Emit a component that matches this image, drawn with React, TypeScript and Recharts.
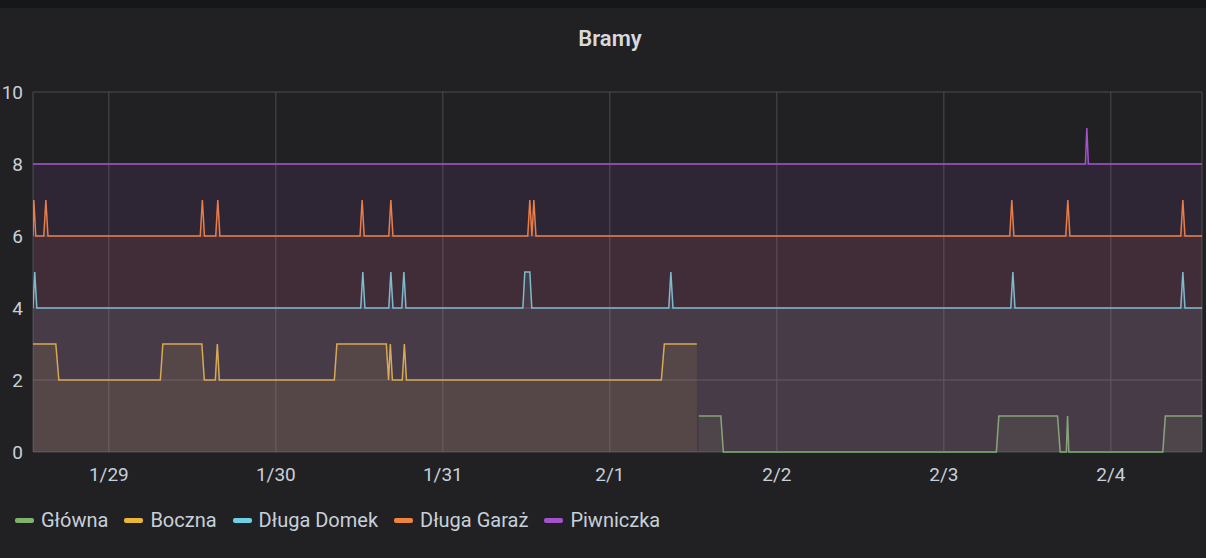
import React from 'react';
import { ComposedChart, Area, XAxis, YAxis, CartesianGrid } from 'recharts';

// time axis: hours since 1/29 00:00 (last 7 days window)
const xDomain = [-10.9, 157.1];
const dayTicks = [0, 24, 48, 72, 96, 120, 144];
const dayLabels = ['1/29', '1/30', '1/31', '2/1', '2/2', '2/3', '2/4'];
const yTicks = [0, 2, 4, 6, 8, 10];

// [hour, value] samples
const glowna: [number, number][] = [
  [84.79, 1], [87.95, 1], [88.31, 0], [127.55, 0], [127.9, 1], [136.34, 1],
  [136.72, 0], [137.6, 0], [137.78, 1], [137.96, 0], [151.47, 0], [151.83, 1],
  [157.1, 1],
];

const boczna: [number, number][] = [
  [-10.9, 3], [-7.62, 3], [-7.19, 2], [7.4, 2], [7.76, 3], [13.37, 3],
  [13.72, 2], [15.3, 2], [15.59, 3], [15.88, 2], [32.41, 2], [32.77, 3],
  [39.88, 3], [40.2, 2], [40.45, 3], [40.75, 2], [42.17, 2], [42.47, 3],
  [42.77, 2], [79.4, 2], [79.83, 3], [84.5, 3],
];

const dlugaDomek: [number, number][] = [
  [-10.9, 4], [-10.65, 5], [-10.35, 4], [36.2, 4], [36.5, 5], [36.8, 4],
  [40.23, 4], [40.53, 5], [40.83, 4], [42.1, 4], [42.4, 5], [42.7, 4],
  [59.5, 4], [59.78, 5], [60.5, 5], [60.78, 4], [80.47, 4], [80.77, 5],
  [81.07, 4], [129.62, 4], [129.92, 5], [130.22, 4], [154.05, 4], [154.35, 5],
  [154.65, 4], [157.1, 4],
];

const dlugaGaraz: [number, number][] = [
  [-10.9, 6], [-10.78, 7], [-10.5, 6], [-9.35, 6], [-9.05, 7], [-8.75, 6],
  [13.14, 6], [13.44, 7], [13.74, 6], [15.36, 6], [15.66, 7], [15.96, 6],
  [36.1, 6], [36.4, 7], [36.7, 6], [40.23, 6], [40.53, 7], [40.83, 6],
  [60.2, 6], [60.5, 7], [60.8, 6], [61.08, 7], [61.38, 6], [129.47, 6],
  [129.77, 7], [130.07, 6], [137.52, 6], [137.82, 7], [138.12, 6],
  [154.05, 6], [154.35, 7], [154.65, 6], [157.1, 6],
];

const piwniczka: [number, number][] = [
  [-10.9, 8], [140.34, 8], [140.55, 9], [140.77, 8], [157.1, 8],
];

const seriesNames = ['Główna', 'Boczna', 'Długa Domek', 'Długa Garaż', 'Piwniczka'];
const seriesColors = ['#7EB26D', '#EAB839', '#6ED0E0', '#EF843C', '#A352CC'];
const seriesPoints = [glowna, boczna, dlugaDomek, dlugaGaraz, piwniczka];

// merge into one table, series missing at a time stay empty (connectNulls bridges them)
const times = Array.from(new Set(seriesPoints.flat().map((p) => p[0]))).sort((a, b) => a - b);
const chartData = times.map((t) => {
  const row: Record<string, number> = { t };
  seriesPoints.forEach((pts, i) => {
    const hit = pts.find((p) => p[0] === t);
    if (hit) row[seriesNames[i]] = hit[1];
  });
  return row;
});

const textColor = '#c7d0d9';

export default function App() {
  return (
    <div
      style={{
        position: 'absolute',
        left: 0,
        top: 0,
        width: 1206,
        height: 558,
        background: '#161719',
        overflow: 'hidden',
        fontFamily: 'Roboto, sans-serif',
      }}
    >
      <div style={{ position: 'absolute', left: 0, top: 8, width: 1206, height: 550, background: '#212124' }}>
        <div
          style={{
            position: 'absolute',
            top: 19,
            left: 7,
            width: 1206,
            textAlign: 'center',
            fontSize: 22,
            lineHeight: '24px',
            fontWeight: 600,
            color: '#d8d9da',
          }}
        >
          Bramy
        </div>

        <ComposedChart
          width={1206}
          height={550}
          data={chartData}
          margin={{ top: 84, right: 4, left: 0, bottom: 66 }}
        >
          <CartesianGrid stroke="#4a4b50" strokeWidth={1} />
          <XAxis
            type="number"
            dataKey="t"
            domain={xDomain}
            allowDataOverflow
            ticks={dayTicks}
            interval={0}
            tickFormatter={(v: number) => dayLabels[dayTicks.indexOf(v)]}
            tickSize={0}
            tickMargin={16}
            axisLine={false}
            height={40}
            tick={{ fill: textColor, fontSize: 19, fontFamily: 'Roboto' }}
          />
          <YAxis
            domain={[0, 10]}
            ticks={yTicks}
            interval={0}
            tickSize={0}
            tickMargin={10}
            axisLine={false}
            width={33}
            tick={{ fill: textColor, fontSize: 19, fontFamily: 'Roboto' }}
          />
          {seriesNames.map((name, i) => (
            <Area
              key={name}
              type="linear"
              dataKey={name}
              stroke={seriesColors[i]}
              strokeWidth={1.5}
              fill={seriesColors[i]}
              fillOpacity={0.1}
              connectNulls
              dot={false}
              activeDot={false}
              isAnimationActive={false}
            />
          ))}
        </ComposedChart>

        <div
          style={{
            position: 'absolute',
            left: 15,
            top: 500,
            height: 24,
            display: 'flex',
            alignItems: 'center',
            fontSize: 20,
            color: textColor,
            whiteSpace: 'nowrap',
          }}
        >
          {seriesNames.map((name, i) => (
            <div key={name} style={{ display: 'flex', alignItems: 'center', marginRight: 16 }}>
              <span
                style={{
                  display: 'inline-block',
                  width: 19,
                  height: 5,
                  borderRadius: 2,
                  background: seriesColors[i],
                  marginRight: 7,
                }}
              />
              <span>{name}</span>
            </div>
          ))}
        </div>
      </div>
    </div>
  );
}
